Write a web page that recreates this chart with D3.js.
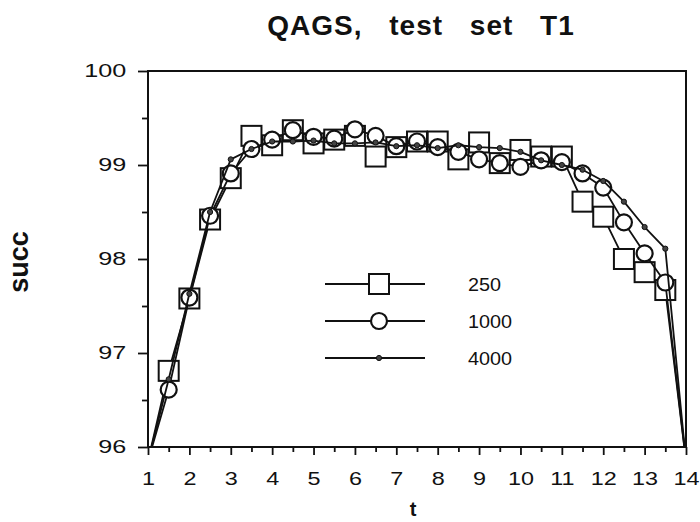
<!DOCTYPE html>
<html>
<head>
<meta charset="utf-8">
<script src="https://cdn.jsdelivr.net/npm/d3@7"></script>
<style>
  body { margin: 0; background: #fff; }
  text { font-family: "Liberation Sans", Arial, Helvetica, sans-serif; fill: #111; }
</style>
</head>
<body>
<div id="chart"></div>
<script>
// t values and success rates (%) for the three sample sizes
var tValues = [1, 1.5, 2, 2.5, 3, 3.5, 4, 4.5, 5, 5.5, 6, 6.5, 7, 7.5, 8, 8.5, 9, 9.5, 10, 10.5, 11, 11.5, 12, 12.5, 13, 13.5, 14];

var succ250 = [95.85, 96.81, 97.58, 98.42, 98.86, 99.31, 99.21, 99.37, 99.23, 99.27, 99.31, 99.09, 99.19, 99.25,
               99.25, 99.06, 99.24, 99.02, 99.16, 99.09, 99.09, 98.61, 98.45, 98.0, 97.86, 97.67, 95.85];

var succ1000 = [95.85, 96.61, 97.59, 98.46, 98.91, 99.17, 99.27, 99.37, 99.30, 99.28, 99.38, 99.31, 99.20, 99.25,
                99.19, 99.14, 99.06, 99.02, 98.98, 99.05, 99.03, 98.91, 98.76, 98.39, 98.06, 97.75, 95.85];

var succ4000 = [95.85, 96.72, 97.63, 98.5, 99.06, 99.17, 99.25, 99.25, 99.26, 99.23, 99.23, 99.24, 99.2, 99.21,
                99.18, 99.21, 99.19, 99.18, 99.14, 99.05, 99.0, 98.95, 98.83, 98.61, 98.34, 98.11, 95.85];

var seriesNames = ["250", "1000", "4000"];

var xTicks = [1, 2, 3, 4, 5, 6, 7, 8, 9, 10, 11, 12, 13, 14];
var xMinor = [1.5, 2.5, 3.5, 4.5, 5.5, 6.5, 7.5, 8.5, 9.5, 10.5, 11.5, 12.5, 13.5];
var yTicks = [96, 97, 98, 99, 100];
var yMinor = [96.5, 97.5, 98.5, 99.5];

// set the dimensions and margins of the graph
var margin = {top: 71, right: 14, bottom: 75, left: 148},
    width = 700 - margin.left - margin.right,
    height = 522 - margin.top - margin.bottom;

var root = d3.select("#chart")
  .append("svg")
    .attr("width", 700)
    .attr("height", 522);

var svg = root.append("g")
    .attr("transform", "translate(" + margin.left + "," + margin.top + ")");

var x = d3.scaleLinear().domain([1, 14]).range([0, width]);
var y = d3.scaleLinear().domain([96, 100]).range([height, 0]);

// X axis, major + minor ticks
var xAxis = svg.append("g")
    .attr("transform", "translate(0," + height + ")")
    .call(d3.axisBottom(x).tickValues(xTicks).tickSize(8).tickPadding(17).tickFormat(d3.format("d")));
svg.append("g")
    .attr("transform", "translate(0," + height + ")")
    .call(d3.axisBottom(x).tickValues(xMinor).tickSize(5).tickFormat(""))
    .select(".domain").remove();

// Y axis, major + minor ticks
var yAxis = svg.append("g")
    .call(d3.axisLeft(y).tickValues(yTicks).tickSize(10).tickPadding(5.5).tickFormat(d3.format("d")));
svg.append("g")
    .call(d3.axisLeft(y).tickValues(yMinor).tickSize(6).tickFormat(""))
    .select(".domain").remove();

svg.selectAll(".domain").remove();
svg.selectAll(".tick line").attr("stroke", "#111").attr("stroke-width", 1.8);

xAxis.selectAll("text")
    .attr("font-size", 18)
    .attr("transform", "scale(1.3,1)");
yAxis.selectAll("text")
    .attr("font-size", 18)
    .attr("transform", "scale(1.4,1)");

// clip marks to the plot area
svg.append("clipPath").attr("id", "plotClip")
  .append("rect").attr("width", width).attr("height", height);

var plot = svg.append("g").attr("clip-path", "url(#plotClip)");

var line = d3.line()
    .x(function(d) { return x(d[0]); })
    .y(function(d) { return y(d[1]); });

function drawMarker(sel, kind) {
  if (kind === "square") {
    sel.append("rect")
      .attr("x", -10).attr("y", -10).attr("width", 20).attr("height", 20)
      .attr("fill", "#fff").attr("stroke", "#111").attr("stroke-width", 2);
  } else if (kind === "circle") {
    sel.append("circle")
      .attr("r", 8)
      .attr("fill", "#fff").attr("stroke", "#111").attr("stroke-width", 2.2);
  } else {
    sel.append("circle")
      .attr("r", 2.6)
      .attr("fill", "#444").attr("stroke", "#111").attr("stroke-width", 1);
  }
}

var series = [
  {name: seriesNames[0], values: succ250, marker: "square"},
  {name: seriesNames[1], values: succ1000, marker: "circle"},
  {name: seriesNames[2], values: succ4000, marker: "dot"}
];

series.forEach(function(s) {
  var pts = d3.zip(tValues, s.values);
  plot.append("path")
    .datum(pts)
    .attr("fill", "none")
    .attr("stroke", "#111")
    .attr("stroke-width", 1.8)
    .attr("stroke-linejoin", "round")
    .attr("d", line);
  plot.selectAll(".m-" + s.marker)
    .data(pts)
    .enter()
    .append("g")
      .attr("class", "m-" + s.marker)
      .attr("transform", function(d) { return "translate(" + x(d[0]) + "," + y(d[1]) + ")"; })
      .each(function() { drawMarker(d3.select(this), s.marker); });
});

// frame
svg.append("rect")
    .attr("width", width).attr("height", height)
    .attr("fill", "none").attr("stroke", "#111").attr("stroke-width", 2);

// legend
var legend = root.append("g");
series.forEach(function(s, i) {
  var ly = 284 + i * 37;
  legend.append("line")
    .attr("x1", 325).attr("x2", 425).attr("y1", ly).attr("y2", ly)
    .attr("stroke", "#111").attr("stroke-width", 1.8);
  var m = legend.append("g").attr("transform", "translate(379," + ly + ")");
  drawMarker(m, s.marker);
  legend.append("text")
    .attr("transform", "translate(468," + (ly + 6.5) + ") scale(1.1,1)")
    .attr("font-size", 18)
    .text(s.name);
});

// title and axis labels
root.append("text")
    .attr("x", 421).attr("y", 35)
    .attr("text-anchor", "middle")
    .attr("font-size", 28)
    .attr("font-weight", "bold")
    .style("letter-spacing", "1px")
    .style("word-spacing", "18px")
    .text("QAGS, test set T1");

root.append("text")
    .attr("transform", "translate(28,262) rotate(-90)")
    .attr("text-anchor", "middle")
    .attr("font-size", 27)
    .attr("font-weight", "bold")
    .text("succ");

root.append("text")
    .attr("x", 413).attr("y", 516)
    .attr("text-anchor", "middle")
    .attr("font-size", 20)
    .attr("font-weight", "bold")
    .text("t");
</script>
</body>
</html>
